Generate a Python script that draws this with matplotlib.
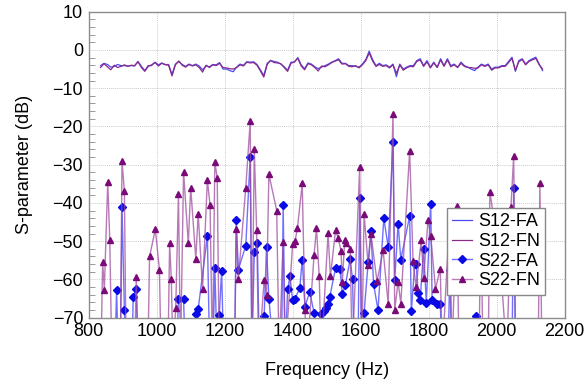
import numpy as np
import matplotlib
matplotlib.use("Agg")
from matplotlib import pyplot as plt
from matplotlib.ticker import MultipleLocator

plt.rcParams['font.family'] = ['Liberation Sans', 'DejaVu Sans']

# S12 traces, sampled every 10 Hz from 835 to 2135 Hz
s12_freq = np.arange(835, 2136, 10)
s12_fa = [
    -4.1, -3.5, -3.8, -4.5, -4.3, -3.8, -4.1, -4.1, -4.2, -4.1,
    -4.2, -3.0, -4.3, -5.4, -4.1, -4.1, -3.2, -3.9, -3.4, -3.9,
    -3.8, -6.4, -3.7, -3.0, -3.8, -4.3, -3.7, -4.1, -3.7, -4.2,
    -5.2, -4.2, -4.4, -3.8, -3.9, -3.3, -5.0, -5.0, -5.4, -5.7,
    -4.5, -3.7, -4.0, -3.1, -3.2, -3.1, -3.8, -5.2, -6.7, -3.5,
    -2.8, -3.0, -3.2, -3.7, -4.4, -5.3, -3.2, -3.2, -2.0, -3.9,
    -4.9, -3.4, -3.7, -4.4, -4.9,
    -4.5, -4.1, -3.7, -3.2, -2.8, -2.3, -3.5, -3.5, -4.1, -4.1,
    -4.3, -4.5, -3.7, -2.5, -0.3, -2.5, -4.1, -3.5, -4.1, -3.9,
    -4.5, -3.7, -7.0, -3.7, -5.0, -4.5, -4.1, -4.1, -2.8, -2.3,
    -4.1, -2.8, -4.5, -3.2, -4.5, -2.3, -4.1, -2.3, -4.1, -3.7,
    -4.5, -3.2, -4.1, -4.5, -5.0, -5.4, -4.5, -3.7, -4.1, -3.7,
    -5.0, -4.5, -4.5, -4.1, -4.1, -3.0, -1.9, -5.6, -2.8, -2.3,
    -3.7, -2.8, -2.3, -1.9, -3.7, -5.4,
]
s12_fn = [
    -4.6, -3.6, -4.4, -5.2, -4.0, -4.6, -4.3, -3.9, -4.3, -4.0,
    -4.1, -3.1, -4.6, -5.6, -4.3, -3.9, -3.3, -4.2, -3.5, -3.8,
    -4.0, -6.8, -3.9, -2.9, -4.0, -4.5, -3.8, -4.2, -3.9, -4.6,
    -5.8, -4.0, -4.6, -3.9, -4.1, -3.5, -4.6, -4.7, -4.9, -5.0,
    -4.6, -3.9, -4.2, -3.2, -3.4, -3.3, -4.0, -5.5, -7.1, -3.8,
    -2.7, -3.3, -3.4, -3.6, -4.6, -5.6, -3.5, -3.1, -2.2, -4.2,
    -5.2, -3.6, -3.9, -4.6, -5.5,
    -4.2, -4.4, -3.9, -3.3, -2.9, -2.6, -3.7, -3.6, -4.3, -4.4,
    -4.1, -4.7, -3.9, -2.8, -0.8, -2.9, -4.3, -3.8, -4.3, -4.1,
    -4.7, -3.9, -6.1, -3.9, -5.3, -4.7, -4.3, -4.4, -3.0, -2.6,
    -4.3, -3.1, -4.7, -3.4, -4.6, -2.6, -4.3, -2.6, -4.4, -3.9,
    -4.6, -3.5, -4.3, -4.6, -4.6, -4.8, -4.7, -3.9, -4.3, -3.9,
    -5.3, -4.7, -4.7, -4.3, -4.3, -3.3, -2.2, -5.3, -3.1, -2.5,
    -3.9, -3.0, -2.6, -2.2, -3.9, -5.0,
]

# S22 traces; -80 marks points that fall below the plotted range
s22_fa_freq = [
    877, 882, 887, 893, 898, 905, 910, 927, 931, 940, 945,
    1059, 1064, 1079, 1084, 1110, 1115, 1122, 1149, 1156, 1165, 1171,
    1178, 1184, 1191, 1197, 1229, 1234, 1240, 1262, 1275, 1280, 1287,
    1296, 1302, 1316, 1323, 1330, 1345, 1367, 1372, 1378, 1385, 1392,
    1400, 1407, 1421, 1428, 1436, 1450, 1463, 1483, 1493, 1498, 1504,
    1509, 1526, 1539, 1546, 1555, 1569, 1576, 1581, 1592, 1597, 1603,
    1610, 1622, 1630, 1638, 1651, 1668, 1681, 1695, 1700, 1710, 1718,
    1744, 1749, 1759, 1763, 1769, 1775, 1785, 1793, 1806, 1810, 1825,
    1834, 1840, 1857, 1862, 1868, 1935, 1940, 1945, 2045, 2050, 2055,
]
s22_fa = [
    -80, -62.7, -80, -80, -41.1, -68.0, -80, -80, -64.5, -62.4, -80,
    -80, -65.0, -65.0, -80, -80, -69.0, -67.8, -48.7, -80, -80, -57.0,
    -80, -69.3, -57.7, -80, -80, -44.5, -57.4, -51.2, -28.1, -80, -52.9,
    -50.5, -80, -69.6, -51.6, -65.0, -80, -80, -40.6, -80, -62.6, -59.2,
    -65.5, -65.0, -62.2, -54.8, -67.1, -63.3, -68.7, -69.0, -68.3, -67.4, -66.3,
    -64.6, -57.0, -57.2, -63.8, -61.5, -54.6, -59.9, -80, -80, -38.6, -80,
    -68.7, -55.5, -47.3, -61.3, -68.0, -44.0, -51.6, -24.1, -60.2, -45.4, -54.8,
    -43.4, -68.3, -55.9, -55.9, -63.5, -65.3, -52.1, -66.1, -40.4, -65.5, -66.5,
    -66.5, -80, -80, -57.4, -80, -80, -69.6, -80, -80, -36.2, -80,
]

s22_fn_freq = [
    836, 841, 846, 856, 862, 868, 893, 898, 905, 910, 935, 940, 945,
    974, 979, 996, 1008, 1013, 1033, 1038, 1043, 1048, 1056, 1064, 1070,
    1079, 1093, 1100, 1115, 1122, 1135, 1149, 1157, 1164, 1171, 1178,
    1184, 1229, 1234, 1240, 1262, 1275, 1280, 1287, 1294, 1300, 1316,
    1323, 1330, 1353, 1360, 1372, 1378, 1400, 1407, 1414, 1428, 1436,
    1442, 1463, 1470, 1478, 1484, 1504, 1511, 1526, 1534, 1542, 1546,
    1553, 1557, 1569, 1575, 1597, 1603, 1610, 1622, 1630, 1648, 1666,
    1681, 1695, 1700, 1710, 1718, 1744, 1754, 1763, 1778, 1785, 1798,
    1806, 1820, 1834, 1840, 1862, 1868, 1883, 1889, 1948, 1953, 1960,
    1975, 1980, 2010, 2030, 2042, 2050, 2056, 2122, 2127, 2133,
]
s22_fn = [
    -80, -55.5, -62.7, -34.4, -49.7, -80, -80, -29.0, -37.0, -80, -80, -59.3, -80,
    -80, -54.0, -46.9, -57.5, -80, -80, -50.5, -60.0, -80, -67.4, -37.7, -80,
    -31.9, -50.6, -36.0, -54.6, -42.8, -62.5, -34.0, -40.6, -80, -29.3, -33.5,
    -80, -80, -46.8, -60.0, -36.0, -18.7, -80, -25.8, -47.2, -80, -60.2,
    -64.0, -32.5, -42.0, -80, -50.3, -80, -50.7, -49.9, -46.6, -34.9, -68.0,
    -80, -53.5, -46.6, -59.2, -80, -47.9, -59.2, -47.2, -49.2, -52.5, -60.7,
    -49.7, -50.5, -52.0, -80, -30.7, -80, -42.8, -56.3, -48.1, -60.5, -52.4,
    -66.5, -16.7, -68.0, -60.6, -66.3, -26.4, -55.3, -62.0, -49.8, -59.6, -44.5,
    -48.7, -62.5, -57.2, -80, -42.7, -80, -40.7, -80, -80, -43.3, -80,
    -80, -37.1, -55.0, -80, -41.0, -27.7, -80, -80, -34.7, -80,
]

fig = plt.figure(figsize=(5.87, 3.83), dpi=100)
ax = fig.add_axes([0.1511, 0.1705, 0.8109, 0.799])

ax.plot(s12_freq, s12_fa, color='#4b4bf0', lw=0.9, label='S12-FA')
ax.plot(s12_freq, s12_fn, color='#8a2a8a', lw=0.9, label='S12-FN')
ax.plot(s22_fa_freq, s22_fa, color=(0.2, 0.2, 1.0, 0.7), lw=1.0,
        marker='D', ms=4.2, mfc='#0a0ae6', mec='#0a0ae6', label='S22-FA')
ax.plot(s22_fn_freq, s22_fn, color=(0.62, 0.3, 0.62, 0.75), lw=1.0,
        marker='^', ms=4.0, mfc='#7a0a78', mec='#7a0a78', label='S22-FN')

ax.set_xlim(800, 2200)
ax.set_ylim(-70, 10)
ax.xaxis.set_major_locator(MultipleLocator(200))
ax.yaxis.set_major_locator(MultipleLocator(10))
ax.yaxis.set_minor_locator(MultipleLocator(2))
ax.grid(True, which='major', color='#cccccc', lw=0.7, ls=(0, (1, 1)))
ax.tick_params(which='both', direction='in', color='#888888', labelsize=13)
ax.tick_params(which='major', length=0, pad=4)
ax.tick_params(which='minor', length=4)
for sp in ax.spines.values():
    sp.set_color('#8c8c8c')
    sp.set_linewidth(1.0)

ax.set_xlabel('Frequency (Hz)', fontsize=13, labelpad=16)
ax.set_ylabel('S-parameter (dB)', fontsize=13, labelpad=14)

leg = ax.legend(loc='lower right', bbox_to_anchor=(0.978, 0.045), fontsize=13,
                handlelength=1.1, handletextpad=0.3, borderpad=0.3,
                labelspacing=0.15, fancybox=False, framealpha=1.0,
                edgecolor='#888888')

fig.savefig('out.png', dpi=100)
